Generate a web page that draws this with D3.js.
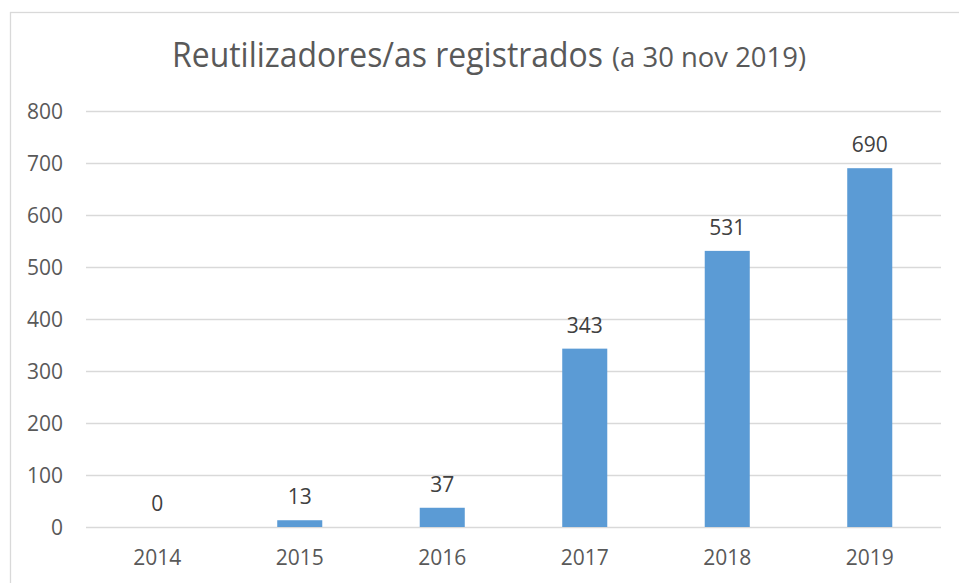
<!DOCTYPE html>
<html><head><meta charset="utf-8">
<script src="https://cdn.jsdelivr.net/npm/d3@7"></script>
<style>body{margin:0;background:#fff}svg{display:block}</style>
</head><body>
<svg id="c" width="959" height="583"></svg>
<script>
const categories = ["2014","2015","2016","2017","2018","2019"];
const values = [0,13,37,343,531,690];
const yTicks = [0,100,200,300,400,500,600,700,800];
const titleMain = "Reutilizadores/as registrados";
const titleSub = "(a 30 nov 2019)";

const svg = d3.select("#c");
const font = "'Open Sans', sans-serif";
svg.append("rect").attr("x",10.5).attr("y",12.5).attr("width",1000).attr("height",700)
  .attr("fill","#fff").attr("stroke","#d9d9d9").attr("stroke-width",1.3);

const x = d3.scaleBand().domain(categories).range([86,941]).paddingInner(0.684).paddingOuter(0.342);
const y = d3.scaleLinear().domain([0,800]).range([527,111]);

// gridlines
svg.append("g").selectAll("line").data(yTicks).join("line")
  .attr("x1",86).attr("x2",941).attr("y1",d=>Math.round(y(d))+0.5).attr("y2",d=>Math.round(y(d))+0.5)
  .attr("stroke","#d9d9d9").attr("stroke-width",1.3);

// y axis labels
const yAxis = d3.axisLeft(y).tickValues(yTicks).tickSize(0).tickPadding(0);
const gy = svg.append("g").attr("transform","translate(63,0)").call(yAxis);
gy.select(".domain").remove();
gy.selectAll("text").attr("font-family",font).attr("font-size",21).attr("fill","#595959").attr("dy","0.36em");

// x axis labels
const xAxis = d3.axisBottom(x).tickSize(0).tickPadding(0);
const gx = svg.append("g").attr("transform","translate(0,565)").call(xAxis);
gx.select(".domain").remove();
gx.selectAll("text").attr("font-family",font).attr("font-size",21).attr("fill","#595959").attr("dy",0);

// bars
svg.append("g").selectAll("rect").data(values).join("rect")
  .attr("x",(d,i)=>x(categories[i])).attr("width",x.bandwidth())
  .attr("y",d=>y(d)).attr("height",d=>y(0)-y(d)).attr("fill","#5b9bd5");

// value labels
svg.append("g").selectAll("text").data(values).join("text")
  .attr("x",(d,i)=>x(categories[i])+x.bandwidth()/2).attr("y",d=>y(d)-16)
  .attr("text-anchor","middle").attr("font-family",font).attr("font-size",21).attr("fill","#404040")
  .text(d=>d);

// title
const t = svg.append("text").attr("x",172).attr("y",67).attr("font-family",font).attr("fill","#595959");
t.append("tspan").attr("font-size",34).attr("textLength",431).attr("lengthAdjust","spacingAndGlyphs").text(titleMain);
t.append("tspan").attr("x",612).attr("font-size",28).attr("textLength",194).attr("lengthAdjust","spacingAndGlyphs").text(titleSub);
</script>
</body></html>
